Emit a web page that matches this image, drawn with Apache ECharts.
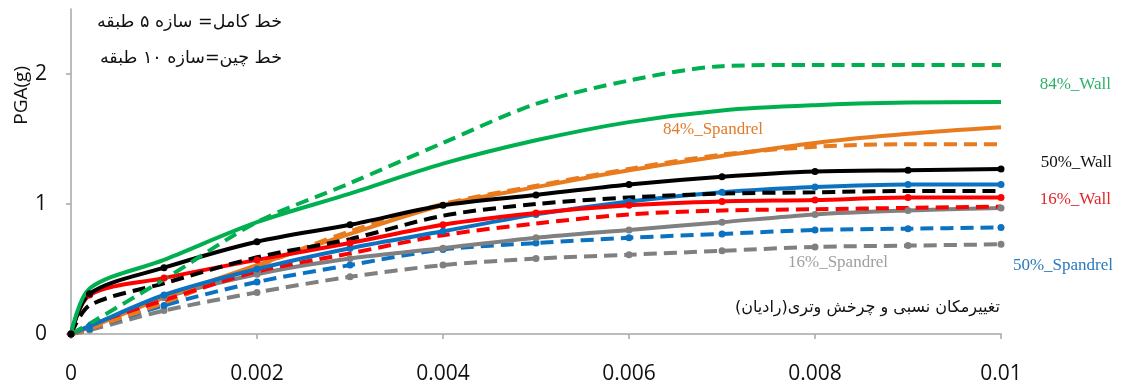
<!DOCTYPE html>
<html>
<head>
<meta charset="utf-8">
<script src="https://cdn.jsdelivr.net/npm/echarts@6/dist/echarts.min.js"></script>
<style>html,body{margin:0;padding:0;background:#fff}#c{width:1121px;height:389px}</style>
</head>
<body>
<div id="c"></div>
<script>
var xs = [0, 0.0002, 0.001, 0.002, 0.003, 0.004, 0.005, 0.006, 0.007, 0.008, 0.009, 0.01];
var xTicks = [0, 0.002, 0.004, 0.006, 0.008, 0.01];
var yTicks = [0, 1, 2];

var wall84_5  = [0, 0.35, 0.57, 0.86, 1.08, 1.31, 1.49, 1.63, 1.72, 1.76, 1.78, 1.785];
var wall84_10 = [0, 0.08, 0.42, 0.86, 1.16, 1.47, 1.77, 1.95, 2.06, 2.07, 2.07, 2.07];
var wall50_5  = [0, 0.31, 0.51, 0.71, 0.84, 0.99, 1.07, 1.15, 1.21, 1.25, 1.26, 1.27];
var wall50_10 = [0, 0.22, 0.39, 0.59, 0.73, 0.91, 1.00, 1.05, 1.08, 1.09, 1.10, 1.10];
var wall16_5  = [0, 0.30, 0.43, 0.57, 0.70, 0.84, 0.93, 0.99, 1.02, 1.03, 1.05, 1.05];
var wall16_10 = [0, 0.07, 0.26, 0.48, 0.62, 0.76, 0.85, 0.92, 0.95, 0.96, 0.97, 0.98];
var sp84_5    = [0, 0.05, 0.28, 0.53, 0.77, 0.99, 1.13, 1.26, 1.37, 1.47, 1.54, 1.59];
var sp84_10   = [0, 0.04, 0.24, 0.52, 0.79, 1.00, 1.14, 1.27, 1.38, 1.44, 1.46, 1.46];
var sp50_5    = [0, 0.06, 0.30, 0.50, 0.66, 0.79, 0.92, 1.02, 1.09, 1.13, 1.15, 1.15];
var sp50_10   = [0, 0.04, 0.22, 0.40, 0.53, 0.65, 0.70, 0.74, 0.77, 0.80, 0.81, 0.82];
var sp16_5    = [0, 0.06, 0.28, 0.46, 0.58, 0.66, 0.74, 0.80, 0.86, 0.92, 0.95, 0.97];
var sp16_10   = [0, 0.03, 0.18, 0.32, 0.44, 0.53, 0.58, 0.61, 0.64, 0.67, 0.68, 0.69];

var GREEN = '#00b050', BLACK = '#000000', RED = '#ff0000', ORANGE = '#e97b1f', BLUE = '#0b72c2', GRAY = '#808080';

function pairs(ys) { return xs.map(function (x, i) { return [x, ys[i]]; }); }
function mk(name, ys, color, dashed, marker) {
  return {
    name: name, type: 'line', data: pairs(ys), smooth: 0.3,
    showSymbol: !!marker, symbol: 'circle', symbolSize: 7,
    itemStyle: { color: color },
    lineStyle: { color: color, width: 4, type: dashed ? [13, 7] : 'solid', cap: 'butt' },
    emphasis: { disabled: true }, animation: false
  };
}

var series = [
  mk('16%_Spandrel 10', sp16_10, GRAY, true, true),
  mk('50%_Spandrel 10', sp50_10, BLUE, true, true),
  mk('16%_Spandrel 5', sp16_5, GRAY, false, true),
  mk('84%_Spandrel 10', sp84_10, ORANGE, true, false),
  mk('84%_Spandrel 5', sp84_5, ORANGE, false, false),
  mk('16%_Wall 10', wall16_10, RED, true, false),
  mk('50%_Spandrel 5', sp50_5, BLUE, false, true),
  mk('16%_Wall 5', wall16_5, RED, false, true),
  mk('50%_Wall 10', wall50_10, BLACK, true, false),
  mk('50%_Wall 5', wall50_5, BLACK, false, true),
  mk('84%_Wall 10', wall84_10, GREEN, true, false),
  mk('84%_Wall 5', wall84_5, GREEN, false, false)
];

var axisCol = '#a6a6a6';
var chart = echarts.init(document.getElementById('c'), null, { renderer: 'canvas' });
chart.setOption({
  animation: false,
  backgroundColor: '#fff',
  grid: { left: 71, right: 120, top: 9, bottom: 55 },
  xAxis: {
    type: 'value', min: 0, max: 0.01, interval: 0.002,
    axisLine: { show: true, onZero: false, lineStyle: { color: axisCol, width: 1.5 } },
    axisTick: { show: true, length: 5, lineStyle: { color: axisCol, width: 1.5 }, customValues: xTicks },
    axisLabel: { customValues: xTicks, margin: 30, fontSize: 21, color: '#111', fontFamily: 'Open Sans',
      formatter: function (v) { return v === 0 ? '0' : String(+v.toFixed(3)); } },
    splitLine: { show: false }
  },
  yAxis: {
    type: 'value', min: 0, max: 2.5, interval: 1,
    axisLine: { show: true, lineStyle: { color: axisCol, width: 1.5 } },
    axisTick: { show: true, length: 5, lineStyle: { color: axisCol, width: 1.5 }, customValues: yTicks },
    axisLabel: { customValues: yTicks, margin: 24, fontSize: 21, color: '#111', fontFamily: 'Open Sans' },
    splitLine: { show: false }
  },
  series: series,
  graphic: [
    { type: 'text', left: 12, top: 66, rotation: Math.PI / 2, style: { text: 'PGA(g)', fontSize: 19, fontFamily: 'Open Sans', fill: '#111' } },
    { type: 'text', x: 282, y: 22, style: { text: 'خط کامل= سازه ۵ طبقه', fontSize: 17.5, fontFamily: 'DejaVu Sans', fill: '#111', align: 'right', verticalAlign: 'middle' } },
    { type: 'text', x: 282, y: 58, style: { text: 'خط چین=سازه ۱۰ طبقه', fontSize: 17.5, fontFamily: 'DejaVu Sans', fill: '#111', align: 'right', verticalAlign: 'middle' } },
    { type: 'text', x: 1000, y: 308, style: { text: 'تغییرمکان نسبی و چرخش وتری(رادیان)', fontSize: 16, fontFamily: 'DejaVu Sans', fill: '#111', align: 'right', verticalAlign: 'middle' } },
    { type: 'text', x: 1111, y: 85, style: { text: '84%_Wall', fontSize: 17, fontFamily: 'Liberation Serif', fill: '#2eb06a', align: 'right', verticalAlign: 'middle' } },
    { type: 'text', x: 1112, y: 163, style: { text: '50%_Wall', fontSize: 17, fontFamily: 'Liberation Serif', fill: '#111', align: 'right', verticalAlign: 'middle' } },
    { type: 'text', x: 1111, y: 200, style: { text: '16%_Wall', fontSize: 17, fontFamily: 'Liberation Serif', fill: '#e0252b', align: 'right', verticalAlign: 'middle' } },
    { type: 'text', x: 1113, y: 266, style: { text: '50%_Spandrel', fontSize: 17, fontFamily: 'Liberation Serif', fill: '#2a78be', align: 'right', verticalAlign: 'middle' } },
    { type: 'text', x: 788, y: 263, style: { text: '16%_Spandrel', fontSize: 17, fontFamily: 'Liberation Serif', fill: '#a0a0a0', verticalAlign: 'middle' } },
    { type: 'text', x: 663, y: 130, style: { text: '84%_Spandrel', fontSize: 17, fontFamily: 'Liberation Serif', fill: '#e07b2a', verticalAlign: 'middle' } }
  ]
});
</script>
</body>
</html>
